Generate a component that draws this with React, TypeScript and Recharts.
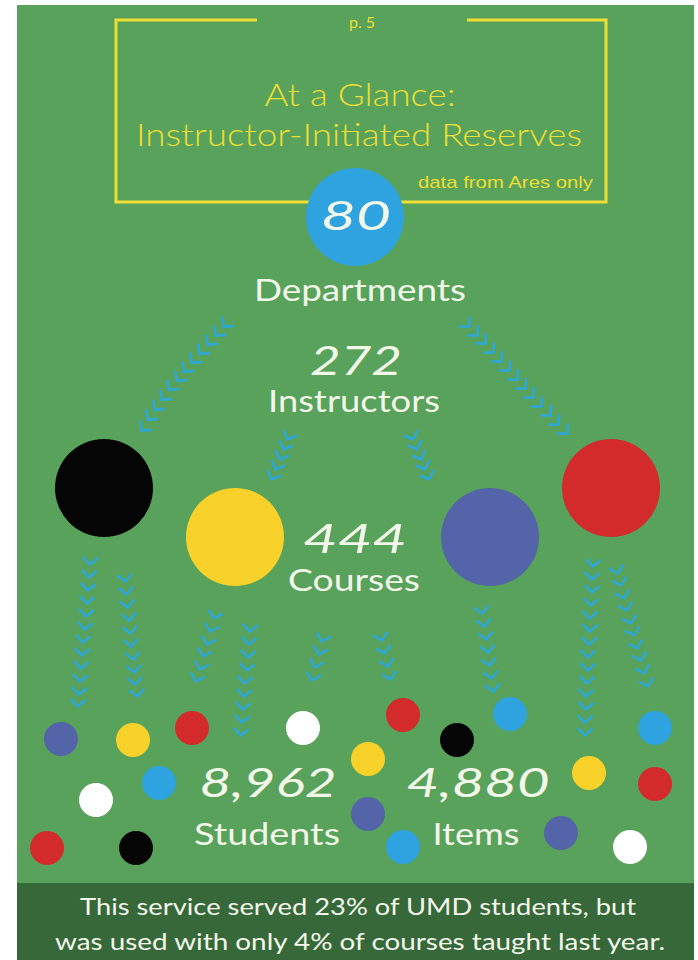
import React from 'react';
import { ScatterChart, Scatter, XAxis, YAxis } from 'recharts';

document.body.style.margin = '0';

const W = 698;
const H = 960;

const palette: Record<string, string> = {
  blue: '#2fa3df',
  black: '#050505',
  yellow: '#f8d22b',
  purple: '#5365a8',
  red: '#d32a2b',
  white: '#ffffff',
};

// large circles (departments hub + the four colour groups)
const bigCircles = [
  { x: 355, y: 217, c: 'blue' },
  { x: 104, y: 488, c: 'black' },
  { x: 235, y: 537, c: 'yellow' },
  { x: 490, y: 537, c: 'purple' },
  { x: 611, y: 488, c: 'red' },
];

// small scattered dots at the bottom
const smallDots = [
  { x: 61, y: 739, c: 'purple' },
  { x: 133, y: 740, c: 'yellow' },
  { x: 192, y: 728, c: 'red' },
  { x: 303, y: 728, c: 'white' },
  { x: 403, y: 715, c: 'red' },
  { x: 510, y: 714, c: 'blue' },
  { x: 655, y: 728, c: 'blue' },
  { x: 457, y: 740, c: 'black' },
  { x: 368, y: 759, c: 'yellow' },
  { x: 159, y: 783, c: 'blue' },
  { x: 96, y: 800, c: 'white' },
  { x: 589, y: 773, c: 'yellow' },
  { x: 655, y: 784, c: 'red' },
  { x: 368, y: 814, c: 'purple' },
  { x: 403, y: 847, c: 'blue' },
  { x: 561, y: 833, c: 'purple' },
  { x: 630, y: 847, c: 'white' },
  { x: 47, y: 848, c: 'red' },
  { x: 136, y: 848, c: 'black' },
];

// chevron arrow chains
const chainDeptLeft = [
  { x: 226, y: 324 }, { x: 218, y: 333 }, { x: 210, y: 342 }, { x: 202, y: 351 },
  { x: 194, y: 360 }, { x: 186, y: 369 }, { x: 179, y: 378 }, { x: 171, y: 387 },
  { x: 164, y: 397 }, { x: 157, y: 407 }, { x: 150, y: 417 }, { x: 144, y: 428 },
];
const chainDeptRight = [
  { x: 467, y: 324 }, { x: 475, y: 333 }, { x: 483, y: 341 }, { x: 491, y: 350 },
  { x: 499, y: 359 }, { x: 507, y: 368 }, { x: 515, y: 377 }, { x: 523, y: 386 },
  { x: 531, y: 395 }, { x: 539, y: 404 }, { x: 548, y: 413 }, { x: 556, y: 422 },
  { x: 565, y: 431 },
];
const chainInstrLeft = [
  { x: 289, y: 436 }, { x: 285, y: 446 }, { x: 281, y: 456 }, { x: 277, y: 466 }, { x: 273, y: 476 },
];
const chainInstrRight = [
  { x: 412, y: 436 }, { x: 416, y: 446 }, { x: 420, y: 456 }, { x: 424, y: 466 }, { x: 428, y: 476 },
];
const chainBlackA = [
  { x: 90, y: 561 }, { x: 89, y: 574 }, { x: 88, y: 587 }, { x: 87, y: 600 },
  { x: 86, y: 613 }, { x: 85, y: 626 }, { x: 83, y: 639 }, { x: 82, y: 652 },
  { x: 81, y: 665 }, { x: 80, y: 678 }, { x: 79, y: 691 }, { x: 78, y: 703 },
];
const chainBlackB = [
  { x: 125, y: 578 }, { x: 126, y: 591 }, { x: 127, y: 604 }, { x: 129, y: 617 },
  { x: 130, y: 630 }, { x: 131, y: 643 }, { x: 133, y: 656 }, { x: 134, y: 669 },
  { x: 135, y: 681 }, { x: 137, y: 693 },
];
const chainYellowA = [
  { x: 215, y: 615 }, { x: 211, y: 628 }, { x: 208, y: 641 }, { x: 204, y: 653 },
  { x: 201, y: 666 }, { x: 197, y: 678 },
];
const chainYellowB = [
  { x: 250, y: 628 }, { x: 249, y: 641 }, { x: 248, y: 654 }, { x: 247, y: 667 },
  { x: 245, y: 680 }, { x: 244, y: 693 }, { x: 243, y: 706 }, { x: 242, y: 719 },
  { x: 241, y: 732 },
];
const chainYellowC = [
  { x: 323, y: 638 }, { x: 320, y: 651 }, { x: 316, y: 664 }, { x: 313, y: 677 },
];
const chainPurpleA = [
  { x: 381, y: 637 }, { x: 384, y: 650 }, { x: 387, y: 663 }, { x: 390, y: 676 },
];
const chainPurpleB = [
  { x: 482, y: 610 }, { x: 484, y: 623 }, { x: 486, y: 636 }, { x: 488, y: 649 },
  { x: 489, y: 662 }, { x: 491, y: 675 }, { x: 493, y: 688 },
];
const chainRedA = [
  { x: 593, y: 563 }, { x: 592, y: 576 }, { x: 592, y: 589 }, { x: 591, y: 602 },
  { x: 590, y: 615 }, { x: 590, y: 628 }, { x: 589, y: 641 }, { x: 588, y: 654 },
  { x: 588, y: 667 }, { x: 587, y: 680 }, { x: 586, y: 693 }, { x: 586, y: 706 },
  { x: 585, y: 719 }, { x: 585, y: 732 },
];
const chainRedB = [
  { x: 617, y: 570 }, { x: 620, y: 582 }, { x: 623, y: 595 }, { x: 626, y: 607 },
  { x: 630, y: 620 }, { x: 633, y: 632 }, { x: 636, y: 645 }, { x: 640, y: 657 },
  { x: 643, y: 670 }, { x: 647, y: 683 },
];

const chains = [
  chainDeptLeft, chainDeptRight, chainInstrLeft, chainInstrRight,
  chainBlackA, chainBlackB, chainYellowA, chainYellowB, chainYellowC,
  chainPurpleA, chainPurpleB, chainRedA, chainRedB,
];

const YELLOW = '#efde33';
const TEXT = '#f3f7ea';
const CHEVRON = '#2ea6d6';
const sans = "Lato, 'Open Sans', sans-serif";

const chainAngle = (pts: { x: number; y: number }[]) => {
  const a = pts[0];
  const b = pts[pts.length - 1];
  return (Math.atan2(-(b.x - a.x), b.y - a.y) * 180) / Math.PI;
};

const numProps = {
  fill: TEXT,
  fontFamily: sans,
  fontStyle: 'italic',
  fontWeight: 400,
  fontSize: 40,
  textAnchor: 'middle' as const,
  lengthAdjust: 'spacingAndGlyphs' as const,
};
const wordProps = {
  fill: TEXT,
  fontFamily: sans,
  fontSize: 31,
  textAnchor: 'middle' as const,
  lengthAdjust: 'spacingAndGlyphs' as const,
};

// frame and labels drawn under the chart marks
const Backdrop = () => (
  <svg width={W} height={H} style={{ position: 'absolute', left: 0, top: 0, pointerEvents: 'none' }}>
    <g stroke={YELLOW} strokeWidth={3} fill="none">
      <polyline points="257,20 116,20 116,202 309,202" />
      <polyline points="467,20 606,20 606,202 401,202" />
    </g>
    <text x={362} y={28} fill={YELLOW} fontFamily={sans} fontSize={16} textAnchor="middle">p. 5</text>
    <text x={360} y={106} fill={YELLOW} fontFamily={sans} fontWeight={300} fontSize={31} textAnchor="middle" textLength={191} lengthAdjust="spacingAndGlyphs">At a Glance:</text>
    <text x={359} y={146} fill={YELLOW} fontFamily={sans} fontWeight={300} fontSize={31} textAnchor="middle" textLength={446} lengthAdjust="spacingAndGlyphs">Instructor-Initiated Reserves</text>
    <text x={593} y={188} fill={YELLOW} fontFamily="'Liberation Sans Narrow', 'Liberation Sans', sans-serif" fontSize={17} textAnchor="end" textLength={175} lengthAdjust="spacingAndGlyphs">data from Ares only</text>

    <text x={360} y={301} {...wordProps} textLength={212}>Departments</text>

    <text x={356} y={375} {...numProps} textLength={92}>272</text>
    <text x={354} y={412} {...wordProps} textLength={172}>Instructors</text>

    <text x={355} y={553} {...numProps} textLength={104}>444</text>
    <text x={354} y={591} {...wordProps} textLength={132}>Courses</text>

    <text x={268} y={797} {...numProps} textLength={137}>8,962</text>
    <text x={267} y={845} {...wordProps} textLength={146}>Students</text>

    <text x={478} y={797} {...numProps} textLength={143}>4,880</text>
    <text x={476} y={845} {...wordProps} textLength={87}>Items</text>

    <text x={358} y={915} fill={TEXT} fontFamily={sans} fontSize={24} textAnchor="middle" textLength={556} lengthAdjust="spacingAndGlyphs">This service served 23% of UMD students, but</text>
    <text x={360} y={950} fill={TEXT} fontFamily={sans} fontSize={24} textAnchor="middle" textLength={610} lengthAdjust="spacingAndGlyphs">was used with only 4% of courses taught last year.</text>
  </svg>
);

export default function App() {
  return (
    <div style={{ position: 'relative', width: W, height: H, background: '#ffffff', overflow: 'hidden' }}>
      <div style={{ position: 'absolute', left: 17, top: 5, width: 677, height: 955, background: '#58a25b' }} />
      <div style={{ position: 'absolute', left: 17, top: 883, width: 677, height: 77, background: '#37683a' }} />
      <Backdrop />
      <div style={{ position: 'absolute', left: 0, top: 0 }}>
        <ScatterChart width={W} height={H} margin={{ top: 0, right: 0, bottom: 0, left: 0 }}>
          <XAxis type="number" dataKey="x" domain={[0, W]} allowDataOverflow hide />
          <YAxis type="number" dataKey="y" domain={[0, H]} allowDataOverflow reversed hide />
          {chains.map((pts, i) => {
            const ang = chainAngle(pts);
            return (
              <Scatter
                key={`ch${i}`}
                data={pts}
                isAnimationActive={false}
                shape={(p: any) => (
                  <path
                    d="M -7.5 -3.5 L 0 3.5 L 7.5 -3.5"
                    transform={`translate(${p.cx},${p.cy}) rotate(${ang})`}
                    fill="none"
                    stroke={CHEVRON}
                    strokeWidth={2.6}
                  />
                )}
              />
            );
          })}
          <Scatter
            data={bigCircles}
            isAnimationActive={false}
            shape={(p: any) => <circle cx={p.cx} cy={p.cy} r={49} fill={palette[p.payload.c]} />}
          />
          <Scatter
            data={smallDots}
            isAnimationActive={false}
            shape={(p: any) => <circle cx={p.cx} cy={p.cy} r={17} fill={palette[p.payload.c]} />}
          />
        </ScatterChart>
      </div>
      {/* the hub number sits on top of the blue circle */}
      <svg width={W} height={H} style={{ position: 'absolute', left: 0, top: 0, pointerEvents: 'none' }}>
        <text x={356} y={230} {...numProps} textLength={70}>80</text>
      </svg>
    </div>
  );
}
